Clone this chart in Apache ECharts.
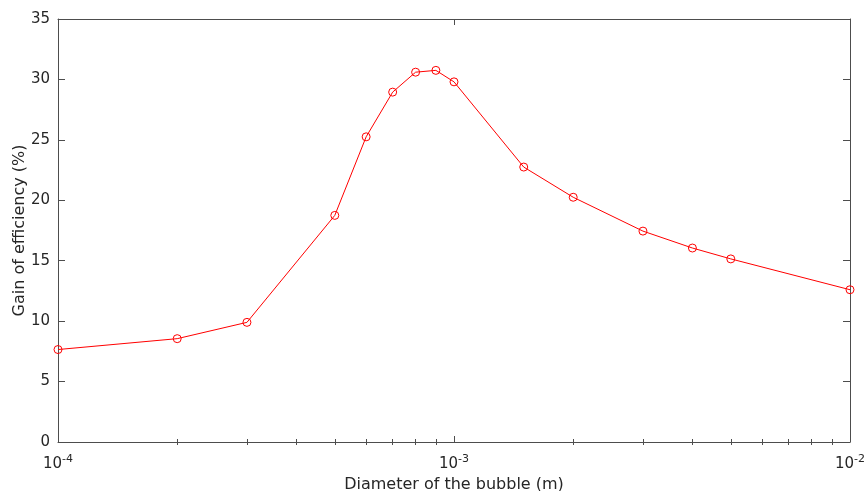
<!DOCTYPE html>
<html>
<head>
<meta charset="utf-8">
<script src="https://cdn.jsdelivr.net/npm/echarts@6/dist/echarts.min.js"></script>
<style>
  html, body { margin: 0; padding: 0; background: #fff; }
  #chart { width: 868px; height: 491px; }
</style>
</head>
<body>
<div id="chart"></div>
<script>
// bubble diameter (m) and gain of efficiency (%)
const diameters = [1e-4, 2e-4, 3e-4, 5e-4, 6e-4, 7e-4, 8e-4, 9e-4, 1e-3, 1.5e-3, 2e-3, 3e-3, 4e-3, 5e-3, 1e-2];
const gains = [7.65, 8.55, 9.9, 18.75, 25.25, 28.95, 30.6, 30.75, 29.8, 22.75, 20.25, 17.45, 16.05, 15.15, 12.6];

const majorTicks = [1e-4, 1e-3, 1e-2];
const minorTicks = [2e-4, 3e-4, 4e-4, 5e-4, 6e-4, 7e-4, 8e-4, 9e-4,
                    2e-3, 3e-3, 4e-3, 5e-3, 6e-3, 7e-3, 8e-3, 9e-3];
const yTicks = [0, 5, 10, 15, 20, 25, 30, 35];

const axisColor = '#4d4d4d';
const textColor = '#262626';
const font = 'DejaVu Sans';

/* 公共的对数x轴设置 */
function logAxis(extra) {
  return Object.assign({
    type: 'log',
    logBase: 10,
    min: 1e-4,
    max: 1e-2,
    gridIndex: 0,
    splitLine: { show: false },
    axisLine: { show: true, onZero: false, lineStyle: { color: axisColor, width: 1 } },
    axisLabel: { show: false },
    axisTick: { show: false }
  }, extra);
}

const chart = echarts.init(document.getElementById('chart'));

const option = {
  backgroundColor: '#fff',
  animation: false,
  grid: { left: 58, right: 18, top: 19, bottom: 49, containLabel: false, outerBoundsMode: 'none' },
  xAxis: [
    logAxis({
      position: 'bottom',
      name: 'Diameter of the bubble (m)',
      nameLocation: 'middle',
      nameGap: 34,
      nameTextStyle: { fontFamily: font, fontSize: 16, color: textColor },
      axisTick: { show: true, inside: true, length: 6, customValues: majorTicks, lineStyle: { color: axisColor } },
      axisLabel: {
        show: true,
        customValues: majorTicks,
        margin: 12,
        formatter: function (v) {
          const e = Math.round(Math.log10(v));
          return '{b|10}{s|' + e + '}';
        },
        rich: {
          b: { fontFamily: font, fontSize: 15, color: textColor },
          s: { fontFamily: font, fontSize: 11, color: textColor, padding: [0, 0, 10, 0] }
        }
      }
    }),
    logAxis({
      position: 'bottom',
      axisLine: { show: false },
      axisTick: { show: true, inside: true, length: 3, customValues: minorTicks, lineStyle: { color: axisColor } }
    }),
    logAxis({
      position: 'top',
      axisTick: { show: true, inside: true, length: 6, customValues: majorTicks, lineStyle: { color: axisColor } }
    }),
    logAxis({
      position: 'top',
      axisLine: { show: false },
      axisTick: { show: true, inside: true, length: 3, customValues: minorTicks, lineStyle: { color: axisColor } }
    })
  ],
  yAxis: [
    {
      type: 'value',
      min: 0,
      max: 35,
      interval: 5,
      position: 'left',
      name: 'Gain of efficiency (%)',
      nameLocation: 'middle',
      nameGap: 30,
      nameMoveOverlap: false,
      nameTextStyle: { fontFamily: font, fontSize: 16, color: textColor },
      splitLine: { show: false },
      axisLine: { show: true, onZero: false, lineStyle: { color: axisColor } },
      axisTick: { show: true, inside: true, length: 7, lineStyle: { color: axisColor } },
      axisLabel: {
        show: true,
        margin: 8,
        fontFamily: font,
        fontSize: 15,
        color: textColor,
        customValues: yTicks
      }
    },
    {
      type: 'value',
      min: 0,
      max: 35,
      interval: 5,
      position: 'right',
      splitLine: { show: false },
      axisLine: { show: true, onZero: false, lineStyle: { color: axisColor } },
      axisTick: { show: true, inside: true, length: 7, lineStyle: { color: axisColor } },
      axisLabel: { show: false }
    }
  ],
  series: [
    {
      type: 'line',
      xAxisIndex: 0,
      yAxisIndex: 0,
      data: diameters.map((d, i) => [d, gains[i]]),
      symbol: 'circle',
      symbolSize: 8,
      showAllSymbol: true,
      lineStyle: { color: '#ff0000', width: 1 },
      itemStyle: { color: 'transparent', borderColor: '#ff0000', borderWidth: 1 },
      emphasis: { disabled: true },
      z: 5
    }
  ]
};

chart.setOption(option);
</script>
</body>
</html>
